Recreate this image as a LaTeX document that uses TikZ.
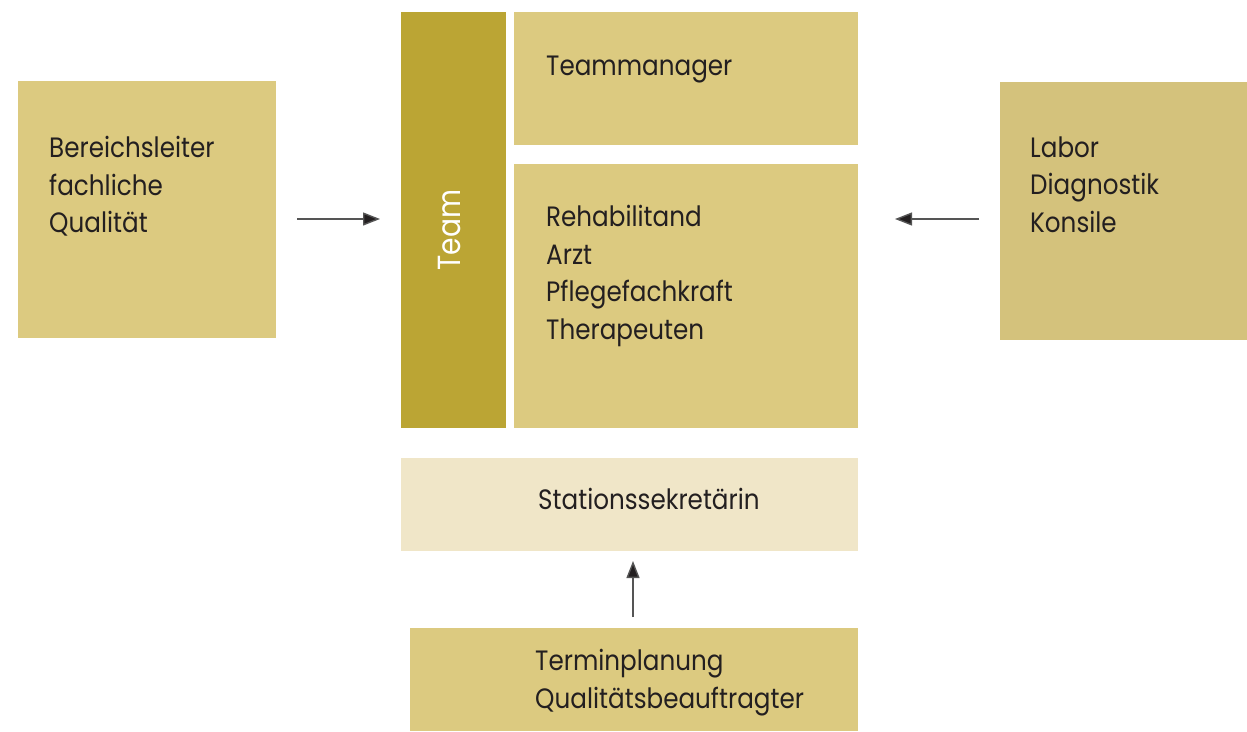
\documentclass[tikz,border=0pt]{standalone}
\usepackage{fontspec}
\setmainfont{Poppins}[FakeStretch=0.88]
\usetikzlibrary{arrows.meta}
\definecolor{boxgold}{RGB}{220,202,128}
\definecolor{boxgoldR}{RGB}{212,194,124}
\definecolor{teamgold}{RGB}{187,165,52}
\definecolor{boxlight}{RGB}{240,230,200}
\definecolor{txt}{RGB}{35,31,32}
\definecolor{arr}{RGB}{85,85,85}
\tikzset{
  box/.style={draw=none, inner sep=0pt, outer sep=0pt, anchor=north west},
  lbl/.style={inner sep=0pt, anchor=north west, align=left, text=txt,
     font=\fontsize{28}{37.7}\selectfont},
  conn/.style={draw=arr, line width=1.4pt, -{Triangle[length=17pt,width=13pt,fill=txt]}},
}
\newcommand{\capstrut}{\rule{0pt}{21pt}}
\begin{document}
\begin{tikzpicture}[x=1pt,y=-1pt]
\useasboundingbox (0,0) rectangle (1247,731);
% boxes
\node[box, fill=boxgold, minimum width=258pt, minimum height=257pt] (bl) at (18,81) {};
\node[box, fill=teamgold, minimum width=105pt, minimum height=416pt] (team) at (401,12) {};
\node[box, fill=boxgold, minimum width=344pt, minimum height=133pt] (tm) at (514,12) {};
\node[box, fill=boxgold, minimum width=344pt, minimum height=264pt] (core) at (514,164) {};
\node[box, fill=boxlight, minimum width=457pt, minimum height=93pt] (sek) at (401,458) {};
\node[box, fill=boxgold, minimum width=448pt, minimum height=103pt] (term) at (410,628) {};
\node[box, fill=boxgoldR, minimum width=247pt, minimum height=258pt] (lab) at (1000,82) {};
% texts
\node[lbl] (blt) at (49,136) {\capstrut Bereichsleiter\\fachliche\\Qualität};
\node[lbl] (tmt) at (546,54) {\capstrut Teammanager};
\node[lbl] (coret) at (546,205) {\capstrut Rehabilitand\\Arzt\\Pflegefachkraft\\Therapeuten};
\node[lbl] (sekt) at (538,488) {\capstrut Stationssekretärin};
\node[lbl] (termt) at (535,649) {\capstrut Terminplanung\\Qualitätsbeauftragter};
\node[lbl] (labt) at (1030,136) {\capstrut Labor\\Diagnostik\\Konsile};
\node[inner sep=0pt, anchor=base, rotate=90, text=white, font=\fontsize{32}{40}\selectfont] (teamt) at (460,230) {Team};
% connectors
\coordinate (a1) at (297,219);
\coordinate (a2) at (979,219);
\coordinate (a3) at (633,617);
\draw[conn, shorten >=21pt] (a1) -- (a1 -| team.west);
\draw[conn, shorten >=37pt] (a2) -- (a2 -| core.east);
\draw[conn, shorten >=10pt] (a3) -- (a3 |- sek.south);
\end{tikzpicture}
\end{document}
